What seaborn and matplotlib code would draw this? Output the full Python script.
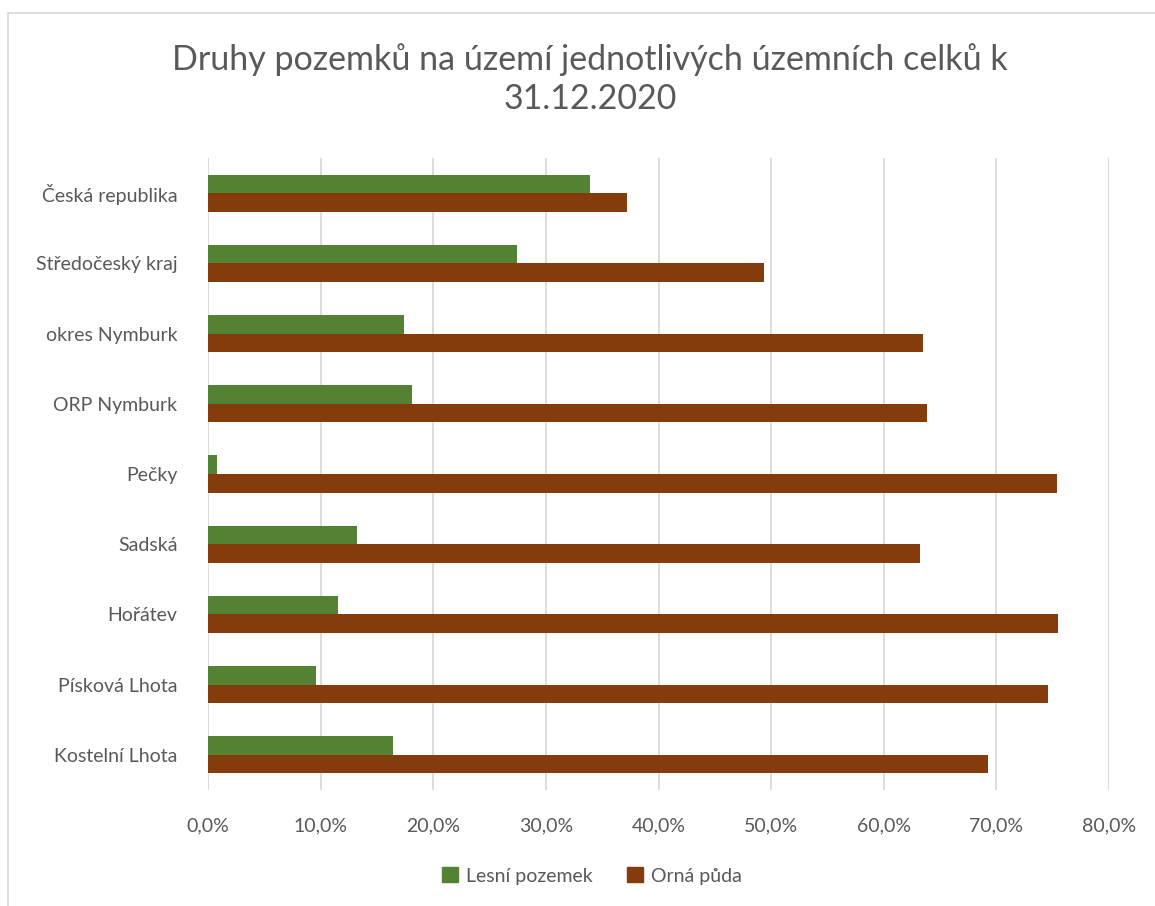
import matplotlib
matplotlib.use("Agg")
import matplotlib.pyplot as plt
import matplotlib.patches as mpatches
from matplotlib.ticker import FuncFormatter, MultipleLocator
import seaborn as sns
import pandas as pd

categories = ["Česká republika", "Středočeský kraj", "okres Nymburk", "ORP Nymburk",
              "Pečky", "Sadská", "Hořátev", "Písková Lhota", "Kostelní Lhota"]
lesni = [33.9, 27.4, 17.4, 18.1, 0.8, 13.2, 11.5, 9.6, 16.4]
orna = [37.2, 49.4, 63.5, 63.8, 75.4, 63.2, 75.5, 74.6, 69.3]
series = ["Lesní pozemek", "Orná půda"]
colors = ["#548235", "#843C0C"]
title = "Druhy pozemků na území jednotlivých územních celků k\n31.12.2020"

df = pd.DataFrame({
    "cat": categories * 2,
    "val": lesni + orna,
    "series": [series[0]] * len(categories) + [series[1]] * len(categories),
})

sns.set_theme(style="white")
plt.rcParams["font.family"] = ["Lato", "DejaVu Sans"]
txt = "#595959"

fig = plt.figure(figsize=(11.55, 9.06), dpi=100)
ax = fig.add_axes([208/1155, 1 - 790/906, (1109-208)/1155, (790-158)/906])

sns.barplot(data=df, y="cat", x="val", hue="series", orient="h",
            palette=colors, saturation=1, width=0.53, ax=ax, order=categories,
            hue_order=series, linewidth=0, legend=False)

ax.set_xlim(0, 80)
ax.xaxis.set_major_locator(MultipleLocator(10))
ax.xaxis.set_major_formatter(FuncFormatter(lambda v, p: f"{v:.1f}".replace(".", ",") + "%"))
ax.grid(axis="x", color="#D9D9D9", linewidth=1.3)
ax.set_axisbelow(True)
for s in ax.spines.values():
    s.set_visible(False)
ax.set_xlabel("")
ax.set_ylabel("")
ax.tick_params(axis="both", length=0, labelsize=14, colors=txt)
ax.tick_params(axis="x", pad=20)
ax.tick_params(axis="y", pad=22)

fig.text(590/1155, 1 - 79/906, title, ha="center", va="center",
         fontsize=24.5, color=txt, linespacing=1.25)

handles = [mpatches.Patch(color=c, label=l) for c, l in zip(colors, series)]
fig.legend(handles=handles, loc="center", bbox_to_anchor=(592/1155, 1 - 876/906),
           ncol=2, frameon=False, fontsize=14, labelcolor=txt,
           handlelength=0.8, handleheight=0.8, handletextpad=0.4, columnspacing=1.8)

border = mpatches.Rectangle((8/1155, -0.05), 1.1, 1 - 13/906 + 0.05,
                            transform=fig.transFigure, fill=False,
                            edgecolor="#D9D9D9", linewidth=1.2)
fig.patches.append(border)

fig.savefig("out.png", dpi=100, facecolor="white")
